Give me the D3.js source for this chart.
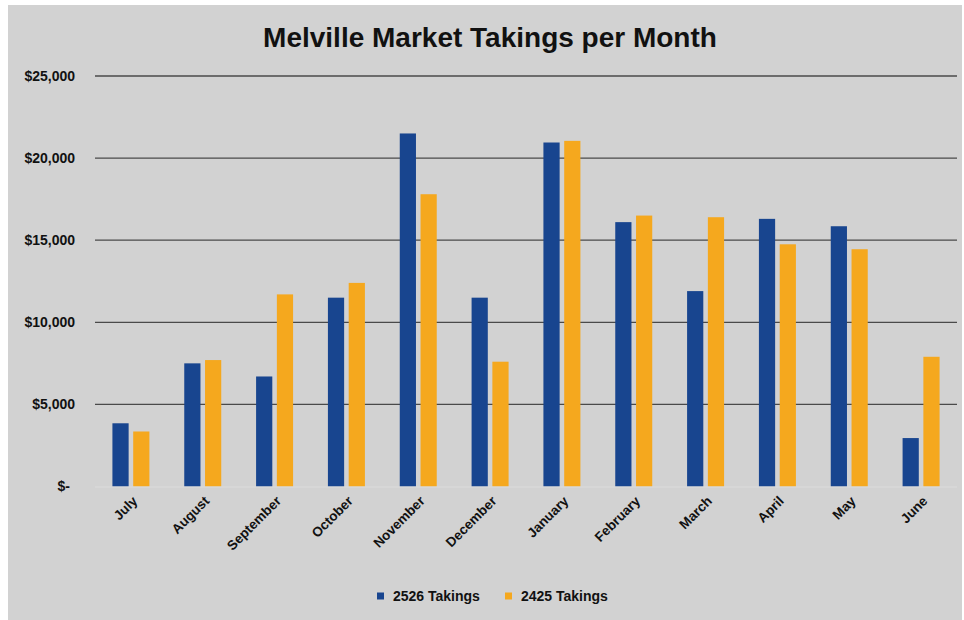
<!DOCTYPE html>
<html>
<head>
<meta charset="utf-8">
<script src="https://cdn.jsdelivr.net/npm/d3@7"></script>
<style>
  html, body { margin: 0; padding: 0; background: #ffffff; }
  svg { display: block; }
</style>
</head>
<body>
<svg id="chart" width="964" height="620"></svg>
<script>
const months = ["July","August","September","October","November","December","January","February","March","April","May","June"];
const series = ["2526 Takings","2425 Takings"];
const takings2526 = [3850, 7500, 6700, 11500, 21500, 11500, 20950, 16100, 11900, 16300, 15850, 2950];
const takings2425 = [3350, 7700, 11700, 12400, 17800, 7600, 21050, 16500, 16400, 14750, 14450, 7900];
const yTicks = [0, 5000, 10000, 15000, 20000, 25000];
const colors = ["#18458f", "#f5a81e"];
const title = "Melville Market Takings per Month";

const svg = d3.select("#chart");
const FONT = "'Liberation Sans', Arial, sans-serif";

svg.append("rect").attr("x", 8).attr("y", 5).attr("width", 954).attr("height", 615).attr("fill", "#d2d2d2");

const plotL = 95, plotR = 957, plotT = 76, plotB = 486.5;

const y = d3.scaleLinear().domain([0, 25000]).range([plotB, plotT]);
const x0 = d3.scaleBand().domain(months).range([plotL, plotR]).paddingInner(0.485).paddingOuter(0.2425);
const x1 = d3.scaleBand().domain(series).range([0, x0.bandwidth()]).paddingInner(0.22).paddingOuter(0);

// gridlines
const grid = svg.append("g");
grid.selectAll("line").data(yTicks.filter(d => d > 0)).join("line")
  .attr("x1", plotL).attr("x2", plotR)
  .attr("y1", d => y(d)).attr("y2", d => y(d))
  .attr("stroke", "#4a4a4a").attr("stroke-width", 1.3);

// y axis labels
const fmt = d => d === 0 ? "$-" : "$" + d3.format(",")(d);
svg.append("g").selectAll("text").data(yTicks).join("text")
  .attr("x", d => d === 0 ? 70 : 75)
  .attr("y", d => y(d))
  .attr("dy", "0.35em")
  .attr("text-anchor", "end")
  .attr("font-family", FONT)
  .attr("font-weight", "bold")
  .attr("font-size", 14)
  .attr("fill", "#111")
  .text(fmt);

// bars
const rows = months.map((m, i) => ({ month: m, vals: [takings2526[i], takings2425[i]] }));
const groups = svg.append("g").selectAll("g").data(rows).join("g")
  .attr("transform", d => `translate(${x0(d.month)},0)`);
groups.selectAll("rect").data(d => d.vals.map((v, j) => ({ key: series[j], v, j }))).join("rect")
  .attr("x", d => x1(d.key))
  .attr("width", x1.bandwidth())
  .attr("y", d => y(d.v))
  .attr("height", d => y(0) - y(d.v))
  .attr("fill", d => colors[d.j]);

// baseline
svg.append("line").attr("x1", plotL).attr("x2", plotR).attr("y1", plotB + 0.5).attr("y2", plotB + 0.5)
  .attr("stroke", "#dcdcdc").attr("stroke-width", 1);

// x labels
svg.append("g").selectAll("text").data(months).join("text")
  .attr("transform", d => `translate(${x0(d) + x0.bandwidth() / 2 + 4},${plotB + 12}) rotate(-45)`)
  .attr("text-anchor", "end")
  .attr("dy", "0.35em")
  .attr("font-family", FONT)
  .attr("font-weight", "bold")
  .attr("font-size", 13.5)
  .attr("fill", "#111")
  .text(d => d);

// title
svg.append("text")
  .attr("x", 490).attr("y", 47)
  .attr("text-anchor", "middle")
  .attr("font-family", FONT)
  .attr("font-weight", "bold")
  .attr("font-size", 28)
  .attr("fill", "#111")
  .text(title);

// legend
const legendItems = [{ label: series[0], c: colors[0], x: 377 }, { label: series[1], c: colors[1], x: 505 }];
const lg = svg.append("g").selectAll("g").data(legendItems).join("g")
  .attr("transform", d => `translate(${d.x},596)`);
lg.append("rect").attr("x", 0).attr("y", -3.5).attr("width", 7).attr("height", 7).attr("fill", d => d.c);
lg.append("text").attr("x", 16).attr("dy", "0.35em")
  .attr("font-family", FONT).attr("font-weight", "bold").attr("font-size", 14).attr("fill", "#111")
  .text(d => d.label);
</script>
</body>
</html>
